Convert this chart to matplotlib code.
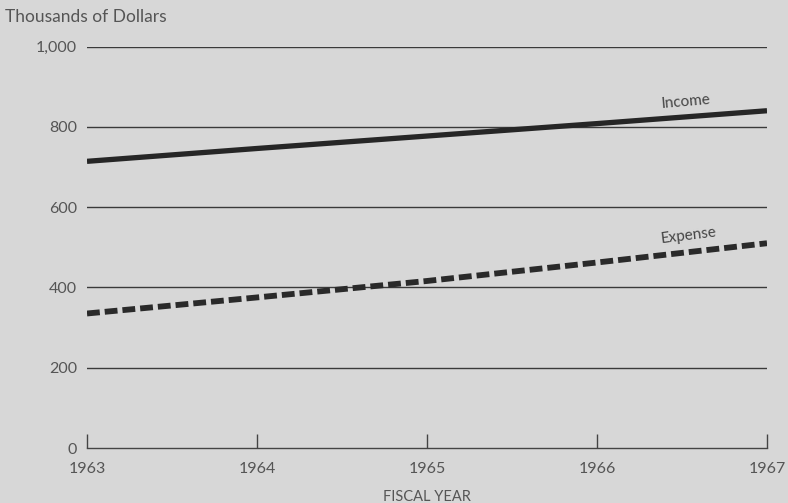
import matplotlib
matplotlib.use("Agg")
import matplotlib.pyplot as plt

years = [1963, 1964, 1965, 1966, 1967]
income = [714, 746, 777, 808, 840]
expense = [335, 375, 416, 462, 510]
y_ticks = [0, 200, 400, 600, 800, 1000]
y_tick_labels = ["0", "200", "400", "600", "800", "1,000"]
x_tick_labels = ["1963", "1964", "1965", "1966", "1967"]

plt.rcParams['font.family'] = ['Lato', 'DejaVu Sans']
bg = "#d7d7d7"
txt = "#555555"

fig = plt.figure(figsize=(7.88, 5.03), dpi=100, facecolor=bg)
ax = fig.add_axes([87/788, 1-448/503, (767-87)/788, (448-46.5)/503])
ax.set_facecolor(bg)

ax.set_xlim(1963, 1967)
ax.set_ylim(0, 1000)

for v in y_ticks[1:]:
    ax.axhline(v, color="#3a3a3a", lw=1.0, zorder=1)

ax.plot(years, income, color="#262626", lw=3.8, solid_capstyle="butt", zorder=3)
ax.plot(years, expense, color="#2a2a2a", lw=4.2, dashes=(2.2, 0.85), zorder=3)

ax.text(1966.52, 862, "Income", color="#444444", fontsize=11, ha="center", va="center", rotation=5)
ax.text(1966.54, 530, "Expense", color="#444444", fontsize=11, ha="center", va="center", rotation=7)

for s in ["top", "right", "left"]:
    ax.spines[s].set_visible(False)
ax.spines["bottom"].set_color("#444444")
ax.spines["bottom"].set_linewidth(1.0)

ax.set_yticks(y_ticks)
ax.set_yticklabels(y_tick_labels)
ax.set_xticks(years)
ax.set_xticklabels(x_tick_labels)
ax.tick_params(axis="y", length=0, pad=7, labelsize=11.5, labelcolor=txt)
ax.tick_params(axis="x", direction="in", length=10, width=1.0, color="#444444",
               pad=10, labelsize=11.5, labelcolor=txt)

ax.set_xlabel("FISCAL YEAR", fontsize=10.5, color=txt, labelpad=10)
fig.text(5/788, 1-9/503, "Thousands of Dollars", fontsize=12.5, color=txt, ha="left", va="top")

fig.savefig("out.png", dpi=100, facecolor=bg)
